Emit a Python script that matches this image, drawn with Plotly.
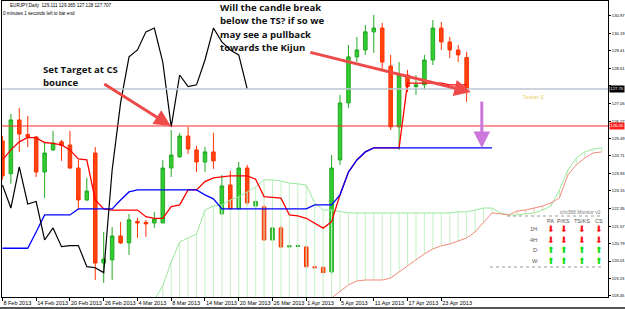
import plotly.graph_objects as go

# ---------------- data ----------------
tick_bars = [0, 4, 8, 12, 16, 20, 24, 28, 32, 36, 40, 44, 48, 52]
tick_labels = ["8 Feb 2013", "14 Feb 2013", "20 Feb 2013", "26 Feb 2013", "4 Mar 2013",
               "8 Mar 2013", "14 Mar 2013", "20 Mar 2013", "26 Mar 2013", "1 Apr 2013",
               "5 Apr 2013", "11 Apr 2013", "17 Apr 2013", "23 Apr 2013"]

open_ = [125.38, 123.91, 126.32, 125.67, 125.56, 123.99, 124.98, 125.34, 125.20, 124.17,
         122.74, 124.84, 119.92, 120.06, 121.13, 120.82, 121.78, 121.74, 121.71, 121.71,
         124.17, 124.67, 125.60, 124.98, 124.44, 124.89, 122.12, 123.41, 122.34, 124.17,
         122.47, 122.43, 120.95, 121.49, 120.64, 120.66, 120.64, 119.75, 119.72, 119.52,
         124.53, 127.08, 129.14, 129.45, 130.26, 130.43, 128.73, 126.01, 128.33, 127.81,
         127.89, 129.00, 130.43, 129.81, 129.45, 129.111]
high = [125.60, 126.59, 126.86, 126.50, 125.60, 125.29, 125.83, 125.43, 125.83, 124.53,
        123.73, 125.11, 121.31, 121.53, 121.76, 122.12, 121.94, 121.85, 122.21, 124.53,
        125.87, 125.74, 126.01, 125.16, 125.11, 125.74, 123.86, 124.04, 124.44, 124.31,
        122.74, 122.52, 121.58, 121.58, 120.73, 120.73, 120.69, 119.79, 119.79, 124.75,
        127.44, 129.67, 130.03, 130.57, 131.02, 130.66, 129.23, 128.91, 128.56, 128.33,
        129.23, 130.79, 130.70, 130.03, 129.67, 129.365]
low = [123.64, 123.46, 124.89, 125.11, 123.77, 122.83, 124.93, 124.49, 124.13, 122.29,
       122.70, 119.16, 119.03, 119.16, 120.77, 120.28, 121.04, 121.09, 121.49, 121.71,
       123.77, 124.62, 124.80, 123.99, 123.99, 124.13, 122.07, 122.29, 122.29, 122.52,
       122.38, 120.91, 120.91, 120.59, 120.59, 120.64, 119.70, 119.70, 119.48, 119.39,
       124.31, 126.86, 128.91, 129.23, 129.32, 128.56, 125.87, 124.98, 127.57, 127.44,
       127.66, 128.78, 129.45, 129.09, 128.91, 127.128]
close = [123.82, 126.32, 125.69, 125.56, 123.99, 124.84, 125.29, 125.18, 124.17, 122.74,
         123.14, 119.92, 120.10, 121.13, 120.82, 121.85, 121.71, 121.67, 121.89, 124.17,
         124.75, 125.60, 125.02, 124.44, 124.89, 124.49, 123.37, 122.34, 124.17, 122.61,
         122.67, 120.95, 121.49, 120.64, 120.69, 120.69, 119.76, 119.71, 119.49, 124.17,
         127.08, 129.14, 129.45, 130.26, 130.43, 128.91, 126.01, 128.33, 127.81, 127.89,
         129.00, 130.43, 129.81, 129.45, 129.23, 127.707]

tenkan = [124.53, 124.98, 125.34, 125.54, 125.52, 125.31, 125.27, 125.20, 124.98, 124.58,
          124.53, 122.74, 122.34, 122.29, 122.29, 122.29, 122.29, 121.99, 121.92, 121.92,
          122.44, 122.52, 123.19, 123.19, 123.56, 123.73, 123.78, 123.82, 123.82, 123.82,
          123.67, 122.89, 122.86, 122.82, 122.07, 122.03, 121.92, 121.70, 121.48, 121.77,
          122.97, 123.99, 124.53, 124.89, 125.07, 125.07, 125.07, 125.07, 127.97, 127.97,
          127.97, 127.97, 127.97, 127.89, 127.89, 127.89]
kijun = [120.58, 120.58, 120.58, 120.58, 121.31, 122.07, 122.07, 122.07, 122.07, 122.34,
         122.34, 122.34, 122.34, 122.34, 122.74, 123.10, 123.19, 123.19, 123.19, 123.19,
         123.19, 123.19, 123.19, 123.19, 122.97, 122.79, 122.34, 122.34, 122.34, 122.34,
         122.34, 122.34, 122.34, 122.34, 122.34, 122.34, 122.34, 122.52, 122.52, 122.52,
         122.97, 123.99, 124.53, 124.89, 125.07, 125.07, 125.07, 125.07, 125.07, 125.07,
         125.07, 125.07, 125.07, 125.07, 125.07, 125.07, 125.07, 125.07, 125.07]
chikou = [123.41, 122.38, 124.22, 122.56, 122.67, 120.95, 121.49, 120.65, 120.70, 120.70,
          119.76, 119.71, 119.49, 124.08, 127.08, 129.14, 129.45, 130.26, 130.43, 128.91,
          126.01, 128.33, 127.81, 127.89, 129.00, 130.43, 129.81, 129.45, 129.23, 127.71]

senkou_start = 18
senkou_a = [118.27, 118.90, 119.97, 120.86, 121.04, 121.22, 122.29, 122.47, 122.52, 122.74,
            122.88, 123.10, 123.32, 123.64, 123.64, 123.59, 123.50, 123.46, 123.41, 122.61,
            122.29, 122.29, 122.21, 122.16, 122.16, 122.16, 122.16, 122.16, 122.16, 122.16,
            122.16, 122.16, 122.16, 122.16, 122.16, 122.16, 122.21, 122.21, 122.29, 122.38,
            122.38, 122.16, 122.07, 122.07, 122.12, 122.16, 122.29, 122.47, 123.19, 124.08,
            124.62, 124.89, 125.02, 125.07]
senkou_b = [117.80, 117.80, 117.80, 117.80, 117.80, 117.80, 117.80, 117.80, 117.80, 117.80,
            117.80, 117.80, 117.80, 117.80, 117.80, 117.80, 117.80, 117.80, 117.80, 117.80,
            117.80, 118.36, 118.63, 118.94, 119.12, 119.16, 119.16, 119.16, 119.25, 119.52,
            119.79, 120.06, 120.33, 120.55, 120.69, 120.77, 120.91, 121.04, 121.31, 121.76,
            122.16, 122.12, 122.07, 122.25, 122.29, 122.38, 122.47, 122.61, 122.83, 123.86,
            124.31, 124.62, 124.84, 124.89]

bid_price = 127.707
target_level = 126.05
price_ticks = [130.97, 130.19, 129.41, 128.61, 127.85, 127.05, 126.27, 125.49, 124.71,
               123.93, 123.15, 122.35, 121.57, 120.79, 120.01, 119.23, 118.45]

header = "EURJPY,Daily  129.111 129.365 127.128 127.707"
timer = "0 minutes 1 seconds left to bar end"
note_right = ["Will the candle break", "below the TS? if so we",
              "may see a pullback", "towards the Kijun"]
note_left = ["Set Target at CS", "bounce"]
monitor_cols = ["PA", "P/KS", "TS/KS", "CS"]
monitor_rows = ["1H:", "4H:", "D:", "W:"]
monitor_dirs = [[-1, -1, -1, -1], [-1, -1, -1, -1], [1, 1, 1, 1], [1, 1, 1, 1]]

# ---------------- layout helpers ----------------
W, H = 625, 309
ML, MR, MT, MB = 2, 17, 1, 12
PW, PH = W - ML - MR, H - MT - MB


def px(x):
    return (x - ML) / PW


def py(y):
    return (H - MB - y) / PH


bars = list(range(len(open_)))

fig = go.Figure()

# cloud hatch
hxg, hyg, hxr, hyr = [], [], [], []
for k, (a, b) in enumerate(zip(senkou_a, senkou_b)):
    xi = senkou_start + k
    if a >= b:
        hxg += [xi, xi, None]
        hyg += [a, b, None]
    else:
        hxr += [xi, xi, None]
        hyr += [a, b, None]
fig.add_trace(go.Scatter(x=hxg, y=hyg, mode="lines", line=dict(color="#c4f2c4", width=1),
                         hoverinfo="skip", showlegend=False))
fig.add_trace(go.Scatter(x=hxr, y=hyr, mode="lines", line=dict(color="#f7b8aa", width=1),
                         hoverinfo="skip", showlegend=False))
sx = list(range(senkou_start, senkou_start + len(senkou_a)))
fig.add_trace(go.Scatter(x=sx, y=senkou_a, mode="lines", line=dict(color="#9be89b", width=1),
                         hoverinfo="skip", showlegend=False))
fig.add_trace(go.Scatter(x=sx, y=senkou_b, mode="lines", line=dict(color="#f28a7a", width=1),
                         hoverinfo="skip", showlegend=False))

fig.add_trace(go.Candlestick(
    x=bars, open=open_, high=high, low=low, close=close,
    increasing=dict(fillcolor="#33cc33", line=dict(color="#22aa22", width=1)),
    decreasing=dict(fillcolor="#ff4411", line=dict(color="#ff3300", width=1)),
    whiskerwidth=0, hoverinfo="skip", showlegend=False))

fig.add_trace(go.Scatter(x=bars, y=tenkan, mode="lines", line=dict(color="#ff0000", width=1.3),
                         hoverinfo="skip", showlegend=False))
fig.add_trace(go.Scatter(x=list(range(len(kijun))), y=kijun, mode="lines",
                         line=dict(color="#0000ff", width=1.3), hoverinfo="skip", showlegend=False))
fig.add_trace(go.Scatter(x=list(range(len(chikou))), y=chikou, mode="lines",
                         line=dict(color="#000000", width=1.2), hoverinfo="skip", showlegend=False))

shapes = [
    dict(type="line", xref="paper", yref="y", x0=0, x1=1, y0=bid_price, y1=bid_price,
         line=dict(color="#bcc6d2", width=1.6), layer="above"),
    dict(type="line", xref="paper", yref="y", x0=0, x1=1, y0=target_level, y1=target_level,
         line=dict(color="#ff2a2a", width=1), layer="above"),
    dict(type="line", xref="paper", yref="paper", x0=px(507), x1=px(603), y0=py(216), y1=py(216),
         line=dict(color="#9a9a9a", width=1, dash="dot")),
    dict(type="line", xref="paper", yref="paper", x0=px(490), x1=px(603), y0=py(267), y1=py(267),
         line=dict(color="#9a9a9a", width=1, dash="dot")),
    dict(type="line", xref="paper", yref="paper", x0=px(0), x1=px(625), y0=py(308), y1=py(308),
         line=dict(color="#555555", width=2)),
]

ann = []
ann.append(dict(xref="paper", yref="paper", x=px(8), y=py(5.5), text=header, showarrow=False,
                xanchor="left", yanchor="middle", font=dict(size=4.6, color="#000000")))
ann.append(dict(xref="paper", yref="paper", x=px(0.5), y=py(13.5), text=timer, showarrow=False,
                xanchor="left", yanchor="middle", font=dict(size=4.6, color="#000000")))
for i, t in enumerate(note_right):
    ann.append(dict(xref="paper", yref="paper", x=px(218), y=py(7 + 13.5 * i), text="<b>%s</b>" % t,
                    showarrow=False, xanchor="left", yanchor="middle",
                    font=dict(size=9.6, family="Open Sans", color="#111111")))
for i, t in enumerate(note_left):
    ann.append(dict(xref="paper", yref="paper", x=px(40.5), y=py(69.3 + 13.4 * i), text="<b>%s</b>" % t,
                    showarrow=False, xanchor="left", yanchor="middle",
                    font=dict(size=9.6, family="Open Sans", color="#111111")))
# arrows
ann.append(dict(x=19.95, y=target_level, xref="x", yref="y", text="", showarrow=True,
                ax=-68, ay=-43, arrowhead=2, arrowsize=1.1, arrowwidth=3, arrowcolor="#ef4a4a"))
ann.append(dict(x=55.5, y=127.57, xref="x", yref="y", text="", showarrow=True,
                ax=-162, ay=-40, arrowhead=2, arrowsize=1.1, arrowwidth=3, arrowcolor="#ef4a4a"))
ann.append(dict(x=56.8, y=kijun[-1], xref="x", yref="y", text="", showarrow=True,
                ax=0, ay=-48, arrowhead=2, arrowsize=1.1, arrowwidth=3, arrowcolor="#cc77dd"))
ann.append(dict(xref="paper", yref="paper", x=px(521), y=py(97), text="Tenkan S", showarrow=False,
                xanchor="left", yanchor="middle", font=dict(size=5, color="#e3d060")))
# price boxes on axis
ann.append(dict(xref="paper", yref="y", x=1, y=bid_price, text="127.70", showarrow=False,
                xanchor="left", yanchor="middle", xshift=1, bgcolor="#000000", borderpad=0.3,
                font=dict(size=4.2, color="#ffffff")))
ann.append(dict(xref="paper", yref="y", x=1, y=target_level, text="%.2f" % target_level, showarrow=False,
                xanchor="left", yanchor="middle", xshift=1, bgcolor="#ff2020", borderpad=0.3,
                font=dict(size=4.2, color="#ffffff")))
# monitor panel
ann.append(dict(xref="paper", yref="paper", x=px(603), y=py(212.5), text="ichi368 Monitor v2",
                showarrow=False, xanchor="right", yanchor="middle", font=dict(size=5, color="#808080")))
col_x = [550.5, 563.5, 581.5, 598.5]
row_y = [229, 239.5, 250, 260.5]
for cx, c in zip(col_x, monitor_cols):
    ann.append(dict(xref="paper", yref="paper", x=px(cx), y=py(221), text=c, showarrow=False,
                    xanchor="center", yanchor="middle", font=dict(size=5.5, color="#555555")))
for ry, r, dirs in zip(row_y, monitor_rows, monitor_dirs):
    ann.append(dict(xref="paper", yref="paper", x=px(541), y=py(ry), text=r, showarrow=False,
                    xanchor="right", yanchor="middle", font=dict(size=5.5, color="#555555")))
    for cx, d in zip(col_x, dirs):
        ann.append(dict(xref="paper", yref="paper", x=px(cx), y=py(ry), text="⬇" if d < 0 else "⬆",
                        showarrow=False, xanchor="center", yanchor="middle",
                        font=dict(size=9, family="DejaVu Sans",
                                  color="#ff1010" if d < 0 else "#11dd11")))

x_lo = -0.05
x_hi = x_lo + PW / 8.44
price_text = ["" if abs(v - bid_price) < 0.3 else "%.2f" % v for v in price_ticks]

fig.update_layout(
    width=W, height=H, margin=dict(l=ML, r=MR, t=MT, b=MB, autoexpand=False),
    paper_bgcolor="#ffffff", plot_bgcolor="#ffffff",
    font=dict(family="Liberation Sans", color="#000000"),
    boxgap=0.4, showlegend=False,
    shapes=shapes, annotations=ann,
    xaxis=dict(range=[x_lo, x_hi], tickvals=tick_bars, ticktext=tick_labels, ticks="outside",
               ticklen=3, tickcolor="#000000", tickfont=dict(size=5.5), tickangle=0,
               automargin=False,
               ticklabelposition="outside right", showgrid=False, zeroline=False,
               showline=True, linecolor="#000000", linewidth=1, mirror=True,
               rangeslider=dict(visible=False)),
    yaxis=dict(range=[118.40, 131.64], side="right", tickvals=price_ticks,
               ticktext=price_text, ticks="outside", ticklen=2, automargin=False,
               tickcolor="#000000", tickfont=dict(size=4.2), showgrid=False, zeroline=False,
               showline=True, linecolor="#000000", linewidth=1, mirror=True),
)

fig.write_html("out.html")
